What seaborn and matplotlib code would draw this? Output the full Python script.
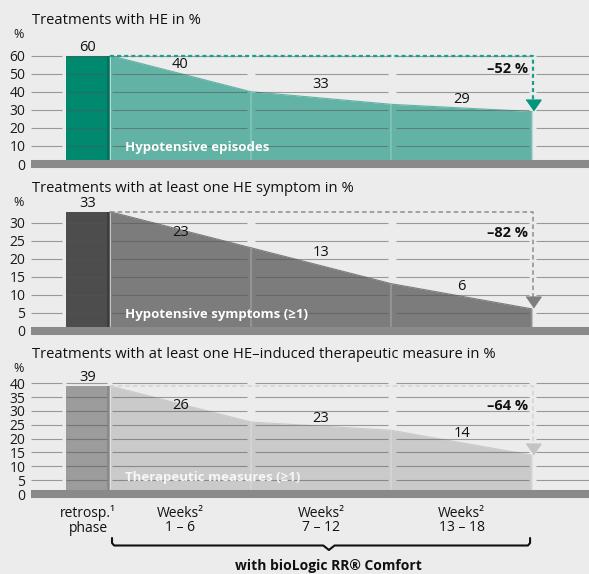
import numpy as np
import matplotlib
matplotlib.use("Agg")
import matplotlib.pyplot as plt
import seaborn as sns

# values
periods = ["retrosp.¹\nphase", "Weeks²\n1 – 6", "Weeks²\n7 – 12", "Weeks²\n13 – 18"]
episodes = [60, 40, 33, 29]
symptoms = [33, 23, 13, 6]
measures = [39, 26, 23, 14]
reductions = ["–52 %", "–82 %", "–64 %"]
titles = ["Treatments with HE in %",
          "Treatments with at least one HE symptom in %",
          "Treatments with at least one HE–induced therapeutic measure in %"]
area_names = ["Hypotensive episodes", "Hypotensive symptoms (≥1)", "Therapeutic measures (≥1)"]
y_max = [60, 30, 40]
y_step = [10, 5, 5]
footer = "with bioLogic RR® Comfort"

W, H = 589, 574
BG = "#ececec"
BASE = "#8a8a8a"

# layout in pixels: axes top, zero line, px per unit, axes bottom
panel_px = [(30, 164, 1.808, 172), (196, 330.5, 3.6, 340), (366, 494, 2.77, 504)]
title_y = [20, 188, 354]
pct_y = [35, 203, 368]
# colours: bar, strip, area, dotted line, arrow, area label
colours = [
    ("#00896f", "#00735d", "#62b3a5", "#1a9f89", "#00957c", "white"),
    ("#4d4d4d", "#3c3c3c", "#7c7c7c", "#8c8c8c", "#7e7e7e", "white"),
    ("#9c9c9c", "#8a8a8a", "#cacaca", "#d2d2d2", "#c4c4c4", "#f6f6f6"),
]
dash = [(1.8, 1.4), (3.0, 2.0), (3.0, 2.0)]
dash_lw = [1.6, 1.1, 1.1]
seg_lift = [[8.7, 13.9, 8.0], [-2.5, 13.7, 9.4], [-1.7, 7.2, 8.9]]
red_drop = [13, 21, 20]

x_left, x_right = -0.562, 3.405
bar_x, bar_w = -0.167, 0.292
grid_segs = [(-0.562, -0.341), (-0.313, -0.021), (0.014, 0.975),
             (1.03, 1.975), (2.03, 2.975), (3.03, 3.405)]

sns.set_theme(style="white", rc={"axes.facecolor": BG, "figure.facecolor": BG})
plt.rcParams["font.family"] = ["Open Sans", "DejaVu Sans"]

fig = plt.figure(figsize=(W / 100, H / 100), dpi=100)
fig.patch.set_facecolor(BG)

for i, vals in enumerate([episodes, symptoms, measures]):
    top, zero, ppu, bottom = panel_px[i]
    bar_c, strip_c, area_c, dot_c, arrow_c, name_c = colours[i]
    ax = fig.add_axes([31 / W, 1 - bottom / H, (W - 31) / W, (bottom - top) / H])
    ax.set_facecolor("none")
    ax.set_xlim(x_left, x_right)
    ax.set_ylim(-(bottom - zero) / ppu, (zero - top) / ppu)

    xs = np.arange(len(vals))
    ax.fill_between(xs, vals, 0, color=area_c, lw=0, zorder=1)
    sns.lineplot(x=xs, y=vals, ax=ax, color=area_c, lw=0.8, zorder=1)
    ax.bar(bar_x, vals[0], width=bar_w, color=bar_c, lw=0, zorder=1)
    ax.bar(-0.0105, vals[0], width=0.021, color=strip_c, lw=0, zorder=1)
    ax.vlines(xs, 0, vals, color="white", alpha=0.18, lw=1.5, zorder=1)

    ticks = np.arange(0, y_max[i] + 1, y_step[i])
    for a, b in grid_segs:
        ax.hlines(ticks[1:], a, b, color="#555555", alpha=0.55, lw=0.8, zorder=2)
    ax.axhline(0, color=BASE, lw=5.8, zorder=3)

    ax.set_yticks(ticks)
    ax.set_yticklabels([str(t) for t in ticks], fontsize=10, color="#1a1a1a")
    ax.tick_params(axis="y", length=0, pad=4)
    ax.set_xticks([])
    for s in ax.spines.values():
        s.set_visible(False)

    # value labels
    ax.text(bar_x + 0.01, vals[0] + 8.5 / ppu, str(vals[0]), ha="center", va="center",
            fontsize=10.5, color="#111111", zorder=5)
    for k in range(1, len(vals)):
        mid = (vals[k - 1] + vals[k]) / 2
        ax.text(k - 0.5, mid + seg_lift[i][k - 1] / ppu, str(vals[k]), ha="center",
                va="center", fontsize=10.5, color="#111111", zorder=5)

    # reduction line and arrow
    xe = xs[-1] + 0.01
    arrow_h = 11
    ax.plot([0, xe, xe], [vals[0], vals[0], vals[-1] + (arrow_h + 1) / ppu],
            color=dot_c, lw=dash_lw[i], dashes=dash[i], zorder=4, solid_capstyle="butt")
    ax.plot([xe], [vals[-1] + (arrow_h / 2 + 1) / ppu], ls="none",
            marker=[(-1, 0.72), (1, 0.72), (0, -0.72)], ms=10.8, color=arrow_c, zorder=4)
    ax.text(2.97, vals[0] - red_drop[i] / ppu, reductions[i], ha="right", va="center",
            fontsize=10.5, fontweight="bold", color="#111111", zorder=5)

    ax.text(0.107, 16 / ppu, area_names[i], ha="left", va="center", fontsize=9.5,
            fontweight="bold", color=name_c, zorder=5)

    fig.text(32 / W, 1 - title_y[i] / H, titles[i], ha="left", va="center",
             fontsize=10.6, color="#111111")
    fig.text(19 / W, 1 - pct_y[i] / H, "%", ha="center", va="center",
             fontsize=9, color="#1a1a1a")

# period labels, brace and footer
axb = fig.add_axes([31 / W, 0, (W - 31) / W, (H - 502) / H])
axb.set_xlim(x_left, x_right)
axb.set_ylim(H, 502)
axb.axis("off")
label_x = [bar_x + 0.01, 0.5, 1.5, 2.5]
for x, lab in zip(label_x, periods):
    axb.text(x, 520.5, lab, ha="center", va="center", fontsize=10,
             linespacing=0.95, color="#111111")

x0, x1, xm = 0.014, 2.986, 1.556
axb.plot([x0, x0, x0 + 0.015, xm - 0.04, xm, xm + 0.04, x1 - 0.015, x1, x1],
         [538, 543, 545.5, 545.5, 550, 545.5, 545.5, 543, 538],
         color="#111111", lw=1.5, solid_joinstyle="round")
axb.text(xm, 566, footer, ha="center", va="center", fontsize=10,
         fontweight="bold", color="#111111")

fig.savefig("out.png", dpi=100, facecolor=BG)
